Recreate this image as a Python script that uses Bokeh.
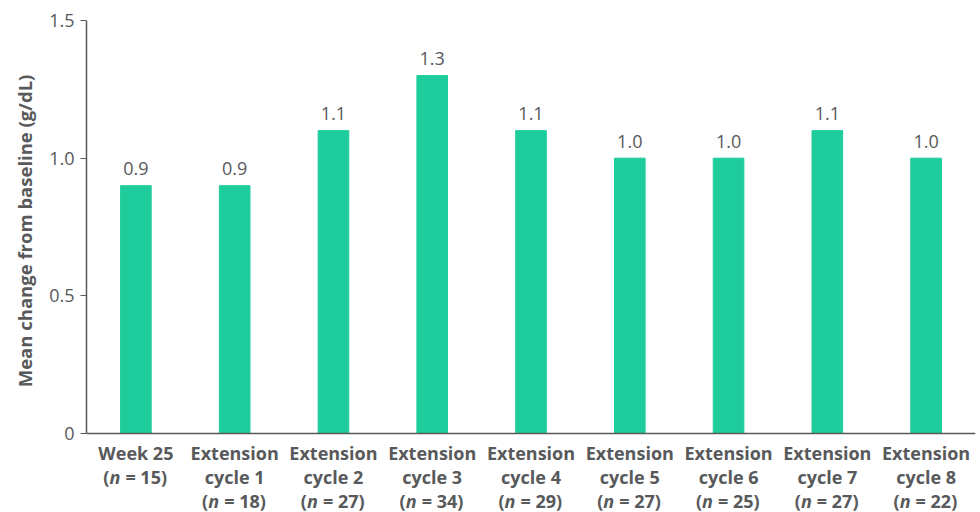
import math
from bokeh.plotting import figure
from bokeh.models import ColumnDataSource, FixedTicker, Range1d, Span
from bokeh.layouts import row
from bokeh.core.properties import value
from bokeh.embed import file_html
from bokeh.resources import INLINE

categories = ["Week 25", "Extension cycle 1", "Extension cycle 2", "Extension cycle 3",
              "Extension cycle 4", "Extension cycle 5", "Extension cycle 6",
              "Extension cycle 7", "Extension cycle 8"]
label_line1 = ["Week 25", "Extension", "Extension", "Extension", "Extension",
               "Extension", "Extension", "Extension", "Extension"]
label_line2 = ["", "cycle 1", "cycle 2", "cycle 3", "cycle 4", "cycle 5",
               "cycle 6", "cycle 7", "cycle 8"]
n_values = [15, 18, 27, 34, 29, 27, 25, 27, 22]
mean_change = [0.9, 0.9, 1.1, 1.3, 1.1, 1.0, 1.0, 1.1, 1.0]
y_ticks = [0, 0.5, 1.0, 1.5]
y_tick_labels = ["0", "0.5", "1.0", "1.5"]
y_title = "Mean change from baseline (g/dL)"

BAR = "#1ecd9b"
TXT = "#58595b"
FONT = "Open Sans"
FS = "18px"

H = 512
TOP = 20
BASE = 433          # screen y of value 0
TITLE_W = 40
LEFT = 86 - TITLE_W
RIGHT = 5
px_per_unit = (BASE - TOP) / 1.5
y_start = 1.5 - (H - TOP) / px_per_unit

src = ColumnDataSource(dict(
    cat=categories,
    val=mean_change,
    lbl=[f"{v:.1f}" for v in mean_change],
))

p = figure(x_range=categories, y_range=Range1d(y_start, 1.5), width=980 - TITLE_W,
           height=H, output_backend="svg", toolbar_location=None,
           x_axis_location=None, min_border_left=LEFT, min_border_right=RIGHT,
           min_border_top=TOP, min_border_bottom=0)

p.vbar(x="cat", top="val", bottom=0, width=0.31, color=BAR, source=src)
p.text(x="cat", y="val", text="lbl", source=src, text_align="center",
       text_baseline="middle", y_offset=-17, text_font=value(FONT),
       text_font_size=FS, text_color=TXT)

p.add_layout(Span(location=0, dimension="width", line_color=TXT, line_width=1.5))

p.xgrid.visible = False
p.ygrid.visible = False
p.outline_line_color = None

p.yaxis.bounds = (0, 1.5)
p.yaxis.ticker = FixedTicker(ticks=y_ticks)
p.yaxis.major_label_overrides = {t: l for t, l in zip(y_ticks, y_tick_labels)}
p.yaxis.minor_tick_line_color = None
p.yaxis.major_tick_in = 0
p.yaxis.major_tick_out = 6
p.yaxis.major_tick_line_color = TXT
p.yaxis.axis_line_color = TXT
p.yaxis.axis_line_width = 1.5
p.yaxis.major_label_text_font = FONT
p.yaxis.major_label_text_font_size = FS
p.yaxis.major_label_text_color = TXT
p.yaxis.major_label_standoff = 6

# category labels under the bars
lab = ColumnDataSource(dict(
    cat=categories,
    zero=[0 for _ in categories],
    l1=label_line1,
    l2=label_line2,
    nopen=["(" for _ in categories],
    nital=["n" for _ in categories],
    nrest=[f"= {n})" for n in n_values],
    noff=[43 if l2 == "" else 67 for l2 in label_line2],
))
common = dict(source=lab, text_font=value(FONT), text_font_size=FS,
              text_color=TXT, text_baseline="middle")
p.text(x="cat", y="zero", text="l1", text_align="center", y_offset=19,
       text_font_style="bold", **common)
p.text(x="cat", y="zero", text="l2", text_align="center", y_offset=43,
       text_font_style="bold", **common)
W_OPEN, W_N, W_SP, W_REST = 6, 11, 5, 43
W = W_OPEN + W_N + W_SP + W_REST
p.text(x="cat", y="zero", text="nopen", text_align="right",
       x_offset=-W / 2 + W_OPEN, y_offset="noff", text_font_style="bold", **common)
p.text(x="cat", y="zero", text="nital", text_align="center",
       x_offset=-W / 2 + W_OPEN + W_N / 2, y_offset="noff",
       text_font_style="bold italic", **common)
p.text(x="cat", y="zero", text="nrest", text_align="left",
       x_offset=-W / 2 + W_OPEN + W_N + W_SP, y_offset="noff",
       text_font_style="bold", **common)

# y-axis title panel
TITLE_CY = 219  # screen y of the title's centre
t = figure(width=TITLE_W, height=H, x_range=Range1d(0, TITLE_W), y_range=Range1d(0, H),
           output_backend="svg", toolbar_location=None,
           x_axis_location=None, y_axis_location=None,
           min_border_left=0, min_border_right=0, min_border_top=0,
           min_border_bottom=0)
t.xgrid.visible = False
t.ygrid.visible = False
t.outline_line_color = None
t.text(x=[24], y=[H - TITLE_CY], text=[y_title], angle=math.pi / 2,
       text_align="center", text_baseline="middle", text_font=value(FONT),
       text_font_size="18.5px", text_font_style="bold", text_color=TXT)

layout = row(t, p, spacing=0)
open("out.html", "w").write(file_html(layout, INLINE))
